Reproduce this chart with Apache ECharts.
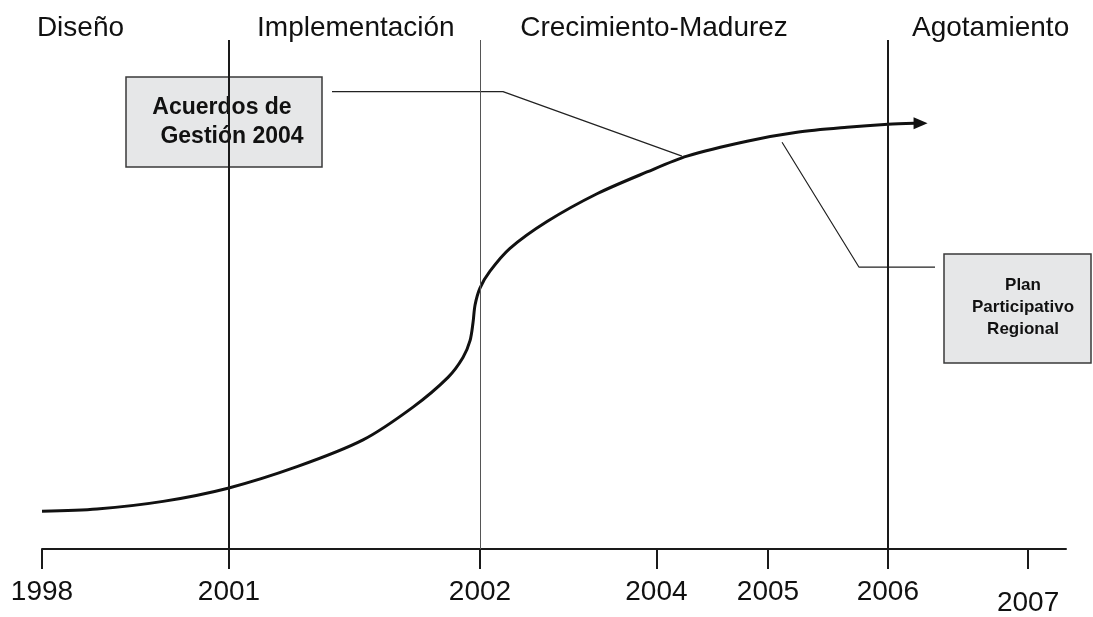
<!DOCTYPE html>
<html>
<head>
    <meta charset="utf-8">
    <script src="https://cdn.jsdelivr.net/npm/echarts@6/dist/echarts.min.js"></script>
    <style>
    html, body { margin: 0; padding: 0; background: #fff; }
    #main { width: 1093px; height: 617px; }
    </style>
    <title>Ciclo de vida</title>
</head>
<body>
    <div id="main"></div>
    <script type="text/javascript">

        // eje horizontal esquemático: posición de cada año en % del eje
        var years    = ['1998', '2001', '2002', '2004', '2005', '2006', '2007'];
        var yearPos  = [0, 18.26, 42.77, 60.0, 70.9, 82.6, 96.3];

        // etapas (texto superior) y su inicio en % del eje
        var phases   = ['Diseño', 'Implementación', 'Crecimiento-Madurez', 'Agotamiento'];
        var phasePos = [-0.5, 21.0, 46.7, 84.96];

        // curva S (x en % del eje, y en % de altura)
        var curveX = [0, 5.37, 11.82, 18.16, 24.9, 31.35, 36.23, 39.65, 41.11, 41.8, 42.09, 42.29, 42.77,
                      43.75, 45.7, 49.32, 54.2, 59.08, 62.99, 68.85, 73.73, 78.61, 82.62, 85.2];
        var curveY = [7.41, 7.86, 9.36, 11.95, 16.18, 21.44, 27.88, 33.72, 37.62, 40.94, 44.44, 47.95, 51.27,
                      54.58, 59.06, 64.33, 69.79, 74.07, 77.19, 80.12, 81.87, 82.85, 83.43, 83.63];

        // líneas guía de las notas
        var acuerdosX = [28.32, 45.02, 62.5];
        var acuerdosY = [89.86, 89.86, 77.19];
        var planX = [72.27, 79.79, 87.21];
        var planY = [79.92, 55.36, 55.36];

        function pairs(xs, ys) {
            return xs.map(function (x, i) { return [x, ys[i]]; });
        }

        var myChart = echarts.init(document.getElementById('main'));
        var font = '"Liberation Sans", Arial, sans-serif';

        var option = {
            animation: false,
            grid: { left: 42, right: 27, top: 40, bottom: 64 },
            xAxis: {
                type: 'value', min: 0, max: 100,
                axisLine: { lineStyle: { color: '#1a1a1a', width: 2 } },
                axisTick: { customValues: yearPos, length: 20, lineStyle: { color: '#1a1a1a', width: 2 } },
                axisLabel: {
                    customValues: yearPos, margin: 29,
                    color: '#111', fontSize: 28, fontFamily: font,
                    formatter: function (v) {
                        var i = yearPos.indexOf(v);
                        var t = i >= 0 ? years[i] : '';
                        return i === years.length - 1 ? '{low|' + t + '}' : t;
                    },
                    rich: { low: { fontSize: 28, fontFamily: font, color: '#111', padding: [11, 0, 0, 0] } }
                },
                splitLine: { show: false }
            },
            yAxis: { type: 'value', min: 0, max: 100, show: false },
            series: [
                {
                    type: 'line',
                    data: pairs(curveX, curveY),
                    smooth: 0.3,
                    showSymbol: false,
                    lineStyle: { color: '#111', width: 3 },
                    markLine: {
                        silent: true, symbol: 'none', label: { show: false },
                        data: [
                            { xAxis: yearPos[1], lineStyle: { color: '#1a1a1a', width: 2, type: 'solid' } },
                            { xAxis: yearPos[2], lineStyle: { color: '#555', width: 1, type: 'solid' } },
                            { xAxis: yearPos[5], lineStyle: { color: '#1a1a1a', width: 2, type: 'solid' } }
                        ]
                    },
                    markPoint: {
                        silent: true,
                        data: [{ coord: [85.8, 83.63], symbol: 'triangle', symbolSize: [12, 14], symbolRotate: -90,
                                 itemStyle: { color: '#111' }, label: { show: false } }]
                    }
                },
                {
                    type: 'line', data: pairs(acuerdosX, acuerdosY), showSymbol: false, silent: true,
                    lineStyle: { color: '#222', width: 1.2 }
                },
                {
                    type: 'line', data: pairs(planX, planY), showSymbol: false, silent: true,
                    lineStyle: { color: '#222', width: 1.2 }
                }
            ]
        };
        myChart.setOption(option);

        // textos de etapas y cuadros de notas
        var graphics = phases.map(function (p, i) {
            var px = myChart.convertToPixel({ xAxisIndex: 0 }, phasePos[i]);
            return {
                type: 'text', left: px, top: 14,
                style: { text: p, fontSize: 28, fontFamily: font, fill: '#111' }
            };
        });
        graphics.push(
            { type: 'rect', shape: { x: 126, y: 77, width: 196, height: 90 },
              style: { fill: '#e6e7e8', stroke: '#3a3a3a', lineWidth: 1.5 } },
            { type: 'text', x: 222, y: 108,
              style: { text: 'Acuerdos de', fontSize: 23, fontWeight: 'bold', fontFamily: font, fill: '#111', align: 'center', verticalAlign: 'middle' } },
            { type: 'text', x: 232, y: 137,
              style: { text: 'Gestión 2004', fontSize: 23, fontWeight: 'bold', fontFamily: font, fill: '#111', align: 'center', verticalAlign: 'middle' } },
            { type: 'rect', shape: { x: 944, y: 254, width: 147, height: 109 },
              style: { fill: '#e6e7e8', stroke: '#3a3a3a', lineWidth: 1.5 } },
            { type: 'text', x: 1023, y: 307,
              style: { text: 'Plan\nParticipativo\nRegional', fontSize: 17, lineHeight: 22, fontWeight: 'bold', fontFamily: font,
                       fill: '#111', align: 'center', verticalAlign: 'middle' } }
        );
        myChart.setOption({ graphic: graphics });

    </script>
</body>
</html>
